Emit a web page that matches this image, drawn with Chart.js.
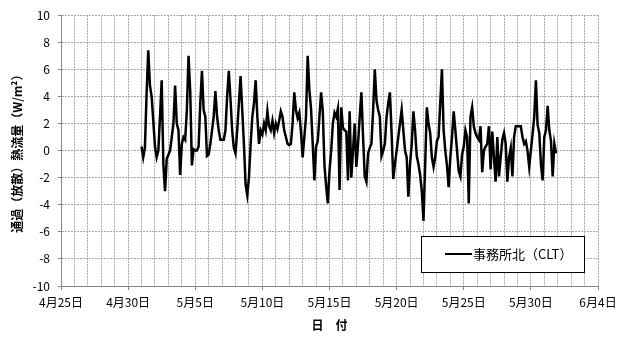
<!DOCTYPE html>
<html><head><meta charset="utf-8">
<script src="https://cdn.jsdelivr.net/npm/chart.js@4"></script>
<style>html,body{margin:0;padding:0;background:#fff}#wrap{width:625px;height:338px}</style>
</head><body><div id="wrap"><canvas id="c" width="625" height="338"></canvas></div>
<script>
// ---- data ----
const seriesLabel = '事務所北（CLT）';
const startDayOffset = 6;   // 5/1 counted in days from 4/25
const stepHours = 3;
const xTickLabels = ['4月25日','4月30日','5月5日','5月10日','5月15日','5月20日','5月25日','5月30日','6月4日'];
const yTickValues = [-10,-8,-6,-4,-2,0,2,4,6,8,10];
const heatFlux = [
  0.3,-0.5,0.2,4.2,7.4,4.8,4.0,2.2,
  0.3,-0.5,0.0,2.5,5.2,-1.0,-3.0,-0.6,
  -0.3,0.0,1.0,2.0,4.8,2.0,1.5,-1.8,
  0.5,1.0,0.8,3.0,7.0,4.4,-1.1,0.1,
  0.0,0.0,0.3,3.5,5.9,3.0,2.5,-0.4,
  -0.3,0.5,1.5,2.5,4.4,2.5,1.5,0.8,
  0.8,0.8,1.5,4.0,5.9,3.8,1.5,0.2,
  -0.2,1.5,3.5,5.5,3.0,0.5,-2.5,-3.3,
  -2.0,0.5,2.5,3.5,5.2,2.5,0.5,1.5,
  1.2,2.0,1.5,2.9,1.8,1.5,2.2,1.3,
  2.0,1.6,2.2,2.9,2.5,1.5,1.0,0.5,
  0.4,0.5,2.0,4.3,3.0,2.4,2.8,1.4,
  -0.5,1.0,2.5,7.0,4.5,3.1,0.5,-2.2,
  0.3,0.7,2.5,4.3,2.9,-1.1,-2.6,-3.9,
  -1.5,0.0,2.0,2.8,2.5,3.1,-2.9,3.2,
  1.7,1.5,1.4,-2.2,2.9,-2.0,0.0,2.0,
  -1.2,0.5,2.5,4.3,1.0,-1.9,-2.3,-0.2,
  0.2,0.5,3.0,6.0,3.7,3.0,2.5,-0.4,
  0.0,0.5,2.5,3.5,4.3,1.3,-2.1,-1.0,
  0.0,1.0,2.0,3.0,1.5,0.0,-0.5,-3.4,
  -1.0,0.5,2.9,1.5,-0.4,-1.0,-1.8,-3.0,
  -5.2,-1.1,3.2,2.0,1.3,-0.5,-1.2,-0.5,
  0.7,1.0,3.5,6.0,1.5,0.0,-1.1,-2.7,
  -0.5,1.0,2.9,1.5,0.0,-1.5,-1.9,-0.3,
  0.3,1.5,1.0,-3.9,2.5,3.2,1.8,1.3,
  1.0,0.8,1.8,-1.6,0.0,0.3,0.5,1.8,
  -1.4,1.4,-0.5,-2.3,1.0,-1.9,-0.5,0.8,
  1.3,0.5,-2.3,-0.5,0.2,-1.9,1.0,1.8,
  1.8,1.8,1.8,1.0,0.5,0.7,0.0,-1.2,
  0.0,1.2,2.5,5.2,1.9,1.3,-1.0,-2.2,
  1.0,1.5,3.3,1.5,0.7,-1.9,0.5,-0.2
];

const points = heatFlux.map((v, i) => ({x: startDayOffset + i * stepHours / 24, y: v}));
const FONT = '"Noto Sans CJK JP", "Noto Sans", sans-serif';

const legendBox = {
  id: 'legendBox',
  afterDraw(chart) {
    const ctx = chart.ctx;
    const ds = chart.data.datasets[0];
    ctx.save();
    ctx.fillStyle = '#fff';
    ctx.fillRect(421, 236, 163, 36);
    ctx.strokeStyle = '#000';
    ctx.lineWidth = 1;
    ctx.strokeRect(421.5, 236.5, 163, 36);
    ctx.strokeStyle = ds.borderColor;
    ctx.lineWidth = 2;
    ctx.beginPath(); ctx.moveTo(445, 254); ctx.lineTo(472, 254); ctx.stroke();
    ctx.fillStyle = '#000';
    ctx.font = '13px ' + FONT;
    ctx.textBaseline = 'middle';
    ctx.fillText(ds.label, 473, 254);
    ctx.restore();
  }
};

new Chart(document.getElementById('c'), {
  type: 'line',
  data: { datasets: [{
    label: seriesLabel, data: points, borderColor: '#000', borderWidth: 2.5,
    pointRadius: 0, tension: 0, fill: false, borderJoinStyle: 'miter'
  }]},
  options: {
    responsive: false, animation: false, devicePixelRatio: 1,
    layout: { padding: { top: 10, right: 27, left: 0, bottom: 0 } },
    plugins: { legend: { display: false }, tooltip: { enabled: false } },
    scales: {
      x: {
        type: 'linear', min: 0, max: 40,
        afterBuildTicks: s => { const t = []; for (let d = 0; d <= 40; d++) t.push({value: d}); s.ticks = t; },
        afterFit: s => { s.height = 52; },
        ticks: {
          autoSkip: false, maxRotation: 0, padding: 5, color: '#000',
          font: { family: FONT, size: 12 },
          callback: v => (v % 5 === 0 ? xTickLabels[v / 5] : '')
        },
        grid: { color: '#a8a8a8', lineWidth: 1, tickLength: 4, tickBorderDash: [],
                tickColor: c => (c.tick && c.tick.value % 5 === 0 ? '#868686' : 'rgba(0,0,0,0)') },
        border: { color: '#868686', width: 1, dash: [2, 1] },
        title: { display: true, text: '日　付', color: '#000',
                 font: { family: FONT, size: 12, weight: 'bold' }, padding: { top: 0, bottom: 5 } }
      },
      y: {
        min: -10, max: 10,
        afterBuildTicks: s => { s.ticks = yTickValues.map(v => ({value: v})); },
        afterFit: s => { s.width = 61; },
        ticks: { padding: 8, color: '#000', font: { family: FONT, size: 12 } },
        grid: { color: '#a8a8a8', lineWidth: 1, tickLength: 3, tickBorderDash: [], tickColor: '#868686' },
        border: { color: '#868686', width: 1, dash: [2, 1] },
        title: { display: true, text: '通過（放散）熱流量（W/m²）', color: '#000',
                 font: { family: FONT, size: 12, weight: 'bold' }, padding: { top: 10, bottom: 0 } }
      }
    }
  },
  plugins: [legendBox]
});
</script>
</body></html>
